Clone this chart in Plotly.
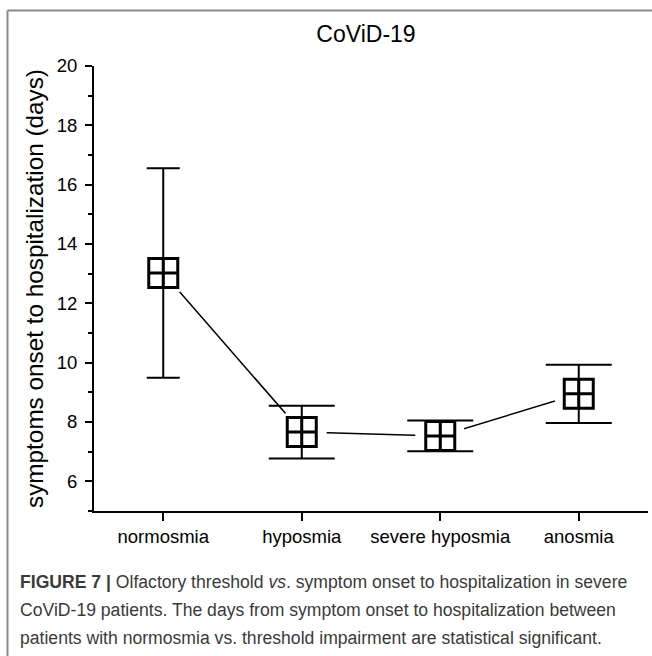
import plotly.graph_objects as go

# ---- data ----
CATEGORIES = ["normosmia", "hyposmia", "severe hyposmia", "anosmia"]
MEANS = [13.02, 7.66, 7.53, 8.95]
ERRORS = [3.53, 0.89, 0.52, 0.98]
Y_TICKS = [6, 8, 10, 12, 14, 16, 18, 20]

TITLE = "CoViD-19"
Y_TITLE = "symptoms onset to hospitalization (days)"
CAPTION_LINES = [
    "<b>FIGURE 7 |</b> Olfactory threshold <i>vs</i>. symptom onset to hospitalization in severe",
    "CoViD-19 patients. The days from symptom onset to hospitalization between",
    "patients with normosmia vs. threshold impairment are statistical significant.",
]

# ---- styles ----
CAP_HALF_WIDTHS = [16.5, 33, 33, 33]
W, H = 652, 656
ML, MR, MT, MB = 94, 4, 66, 145
FONT = "Liberation Sans, Arial, sans-serif"


def px_x(px):
    return (px - ML) / (W - ML - MR)


def px_y(py):
    return (H - MB - py) / (H - MT - MB)


fig = go.Figure()

# connecting line
fig.add_trace(go.Scatter(
    x=CATEGORIES, y=MEANS, mode="lines",
    line=dict(color="black", width=1.5),
    hoverinfo="skip", showlegend=False,
))
# white gaps around the symbols
fig.add_trace(go.Scatter(
    x=CATEGORIES, y=MEANS, mode="markers",
    marker=dict(symbol="circle", size=50, color="white", line=dict(width=0)),
    hoverinfo="skip", showlegend=False,
))
# symbols with error bars
for i, cat in enumerate(CATEGORIES):
    fig.add_trace(go.Scatter(
        x=[cat], y=[MEANS[i]], mode="markers",
        marker=dict(symbol="square-cross-open", size=29, color="black",
                    line=dict(color="black", width=3)),
        error_y=dict(type="data", array=[ERRORS[i]], width=CAP_HALF_WIDTHS[i],
                     thickness=2, color="black"),
        showlegend=False,
    ))

fig.update_xaxes(
    type="category", categoryorder="array", categoryarray=CATEGORIES,
    range=[-0.5, len(CATEGORIES) - 0.5],
    showline=True, linecolor="black", linewidth=2,
    ticks="outside", ticklen=8, tickwidth=2, tickcolor="black",
    tickfont=dict(family=FONT, size=18.5, color="black"),
    showgrid=False, zeroline=False, fixedrange=True,
)
fig.update_yaxes(
    range=[5, 20],
    tickmode="array", tickvals=Y_TICKS,
    showline=True, linecolor="black", linewidth=2,
    ticks="outside", ticklen=7, tickwidth=2, tickcolor="black",
    ticklabelstandoff=4,
    minor=dict(dtick=1, tick0=0, ticks="outside", ticklen=4, tickwidth=2,
               tickcolor="black", showgrid=False),
    tickfont=dict(family=FONT, size=18.5, color="black"),
    title=dict(text=Y_TITLE, font=dict(family=FONT, size=24.3, color="black"),
               standoff=6),
    showgrid=False, zeroline=False, fixedrange=True,
)

annotations = []
caption_y = [581.5, 610, 637.5]
for line, cy in zip(CAPTION_LINES, caption_y):
    annotations.append(dict(
        text=line, xref="paper", yref="paper", x=px_x(18), y=px_y(cy),
        xanchor="left", yanchor="middle", showarrow=False,
        font=dict(family=FONT, size=17.6, color="#3a3a3a"),
    ))

shapes = [
    dict(type="line", xref="paper", yref="paper",
         x0=px_x(7.5), x1=px_x(W + 5), y0=px_y(10.5), y1=px_y(10.5),
         line=dict(color="#8a8a8a", width=2)),
    dict(type="line", xref="paper", yref="paper",
         x0=px_x(7.5), x1=px_x(7.5), y0=px_y(10.5), y1=px_y(H + 5),
         line=dict(color="#8a8a8a", width=2)),
]

fig.update_layout(
    width=W, height=H,
    margin=dict(l=ML, r=MR, t=MT, b=MB, autoexpand=False),
    paper_bgcolor="white", plot_bgcolor="white",
    title=dict(text=TITLE, xref="paper", x=px_x(366), xanchor="center",
               y=1 - 33.5 / H, yanchor="middle", yref="container",
               font=dict(family=FONT, size=23, color="black")),
    annotations=annotations, shapes=shapes,
    showlegend=False,
)

fig.write_html("out.html")
